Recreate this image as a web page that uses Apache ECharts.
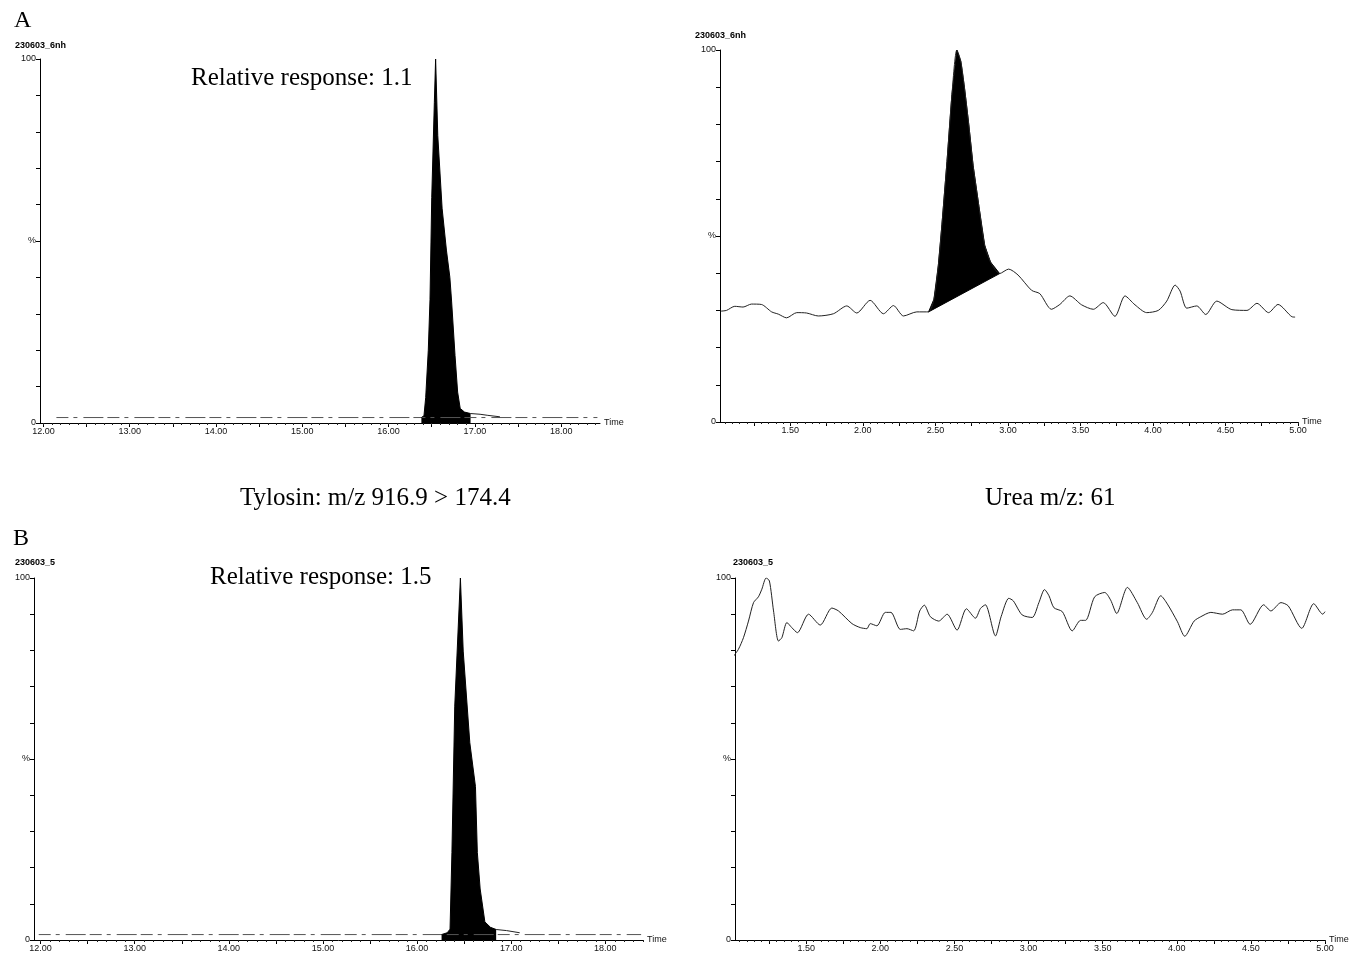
<!DOCTYPE html>
<html>
<head>
<meta charset="utf-8">
<title>chromatograms</title>
<script src="https://cdn.jsdelivr.net/npm/echarts@6.0.0/dist/echarts.min.js"></script>
<style>
html, body { margin: 0; padding: 0; background: #fff; }
#chart { width: 1353px; height: 954px; }
</style>
</head>
<body>
<div id="chart"></div>
<script>
// tick labels
var tylosinLabels = [12, 13, 14, 15, 16, 17, 18];
var ureaLabels = [1.5, 2, 2.5, 3, 3.5, 4, 4.5, 5];
var percentLabels = [0, 50, 100];

// A - tylosin peak (time, %)
var tylosinPeakA = [
	[16.38, 1.5], [16.41, 2.0], [16.43, 7], [16.46, 20], [16.48, 34], [16.50, 62],
	[16.53, 88], [16.545, 100], [16.57, 79], [16.62, 59], [16.67, 47.5], [16.71, 40],
	[16.73, 33.5], [16.77, 18.5], [16.80, 8.5], [16.83, 4.0], [16.88, 3.0], [16.95, 2.6]
];
var tylosinTailA = [[16.95, 2.6], [17.06, 2.4], [17.15, 2.1], [17.29, 1.7]];
var tylosinBaseA = [[12.15, 1.5], [18.42, 1.5]];

// A - urea trace
var ureaTraceA = [
	[1.02, 29.8], [1.06, 30.0], [1.117, 31.1], [1.174, 30.9], [1.232, 31.7], [1.30, 31.6],
	[1.371, 29.6], [1.417, 29.0], [1.474, 28.0], [1.544, 29.4], [1.612, 29.3], [1.693, 28.5],
	[1.797, 29.1], [1.889, 31.2], [1.958, 29.3], [2.05, 32.7], [2.142, 29.1], [2.211, 31.3],
	[2.28, 28.5], [2.372, 29.6], [2.453, 29.6], [2.49, 33.0], [2.52, 42.0], [2.545, 53.0],
	[2.58, 70.0], [2.614, 88.0], [2.648, 100], [2.675, 97.0], [2.70, 90.0], [2.73, 80.0],
	[2.76, 69.0], [2.80, 58.0], [2.84, 47.5], [2.88, 43.0], [2.943, 39.9], [3.005, 41.1],
	[3.07, 39.5], [3.163, 35.4], [3.22, 34.5], [3.30, 30.3], [3.358, 31.6], [3.427, 33.9],
	[3.508, 31.5], [3.589, 30.3], [3.657, 32.1], [3.738, 28.4], [3.807, 33.9], [3.876, 31.5],
	[3.957, 29.4], [4.037, 30.0], [4.095, 32.5], [4.153, 36.8], [4.187, 35.2], [4.233, 30.6],
	[4.302, 31.2], [4.364, 28.9], [4.44, 32.5], [4.544, 30.2], [4.648, 30.0], [4.717, 31.9],
	[4.797, 29.4], [4.862, 31.6], [4.958, 28.3], [4.98, 28.2]
];
var ureaPeakStart = 2.453;
var ureaPeakEnd = 2.943;

// B - tylosin peak
var tylosinPeakB = [
	[16.26, 1.5], [16.32, 2.0], [16.35, 3.0], [16.37, 24.2], [16.40, 64.6], [16.46, 100],
	[16.49, 79.8], [16.56, 54.5], [16.62, 42.4], [16.64, 24.2], [16.67, 14.1], [16.72, 5.0],
	[16.78, 3.5], [16.84, 2.9]
];
var tylosinTailB = [[16.84, 2.9], [16.95, 2.6], [17.09, 2.0]];
var tylosinBaseB = [[11.98, 1.5], [18.38, 1.5]];

// B - urea trace
var ureaTraceB = [
	[1.01, 78.4], [1.043, 80.3], [1.077, 83.5], [1.111, 88.1], [1.145, 93.2], [1.178, 94.8],
	[1.201, 96.9], [1.23, 100], [1.252, 99.2], [1.28, 90.9], [1.313, 82.6], [1.336, 83.5],
	[1.37, 87.7], [1.403, 86.3], [1.441, 84.9], [1.516, 90.0], [1.595, 87.0], [1.673, 91.7],
	[1.718, 90.9], [1.809, 87.4], [1.865, 86.3], [1.91, 86.0], [1.932, 87.4], [1.977, 86.8],
	[2.034, 90.5], [2.072, 90.5], [2.135, 85.8], [2.18, 86.0], [2.225, 85.4], [2.266, 90.9],
	[2.297, 92.5], [2.338, 89.3], [2.394, 88.1], [2.451, 90.0], [2.518, 85.6], [2.581, 91.5],
	[2.642, 88.9], [2.676, 91.6], [2.709, 92.6], [2.777, 84.0], [2.815, 89.3], [2.867, 94.4],
	[2.897, 93.7], [2.957, 89.8], [3.025, 89.1], [3.07, 93.2], [3.108, 96.8], [3.138, 95.1],
	[3.171, 91.8], [3.228, 90.7], [3.295, 85.4], [3.351, 88.3], [3.385, 88.3], [3.446, 94.8],
	[3.514, 96.0], [3.554, 93.9], [3.595, 90.2], [3.667, 97.4], [3.734, 93.2], [3.797, 88.6],
	[3.836, 90.5], [3.892, 95.1], [3.937, 92.8], [4.005, 87.9], [4.054, 83.9], [4.117, 88.1],
	[4.162, 89.3], [4.23, 90.5], [4.309, 90.0], [4.376, 91.2], [4.432, 91.2], [4.495, 87.2],
	[4.586, 92.6], [4.635, 90.9], [4.703, 93.2], [4.752, 92.3], [4.843, 86.1], [4.924, 92.9],
	[4.985, 90.0], [5.0, 90.7]
];

var smallFont = '"Liberation Sans", Arial, sans-serif';
var serifFont = '"Liberation Serif", "Times New Roman", serif';

function steps(from, to, step) {
	var out = [];
	for (var v = from; v <= to + 1e-9; v += step) {
		out.push(Math.round(v * 1000) / 1000);
	}
	return out;
}

function mainXAxis(grid, min, max, labels, major) {
	return {
		gridIndex: grid,
		type: 'value',
		min: min,
		max: max,
		name: 'Time',
		nameLocation: 'end',
		nameGap: 4,
		nameMoveOverlap: false,
		nameTextStyle: { fontSize: 9, color: '#111', fontFamily: smallFont },
		axisLine: { show: true, lineStyle: { color: '#000', width: 1 } },
		axisTick: { show: true, customValues: major, length: 4, lineStyle: { color: '#000' } },
		axisLabel: {
			customValues: labels,
			fontSize: 9,
			color: '#111',
			fontFamily: smallFont,
			margin: 4,
			formatter: function (v) { return v.toFixed(2); }
		},
		splitLine: { show: false }
	};
}

function minorXAxis(grid, min, max, minor) {
	return {
		gridIndex: grid,
		type: 'value',
		min: min,
		max: max,
		position: 'bottom',
		axisLine: { show: false },
		axisTick: { show: true, customValues: minor, length: 2, lineStyle: { color: '#222' } },
		axisLabel: { show: false },
		splitLine: { show: false }
	};
}

function pctYAxis(grid) {
	return {
		gridIndex: grid,
		type: 'value',
		min: 0,
		max: 100,
		axisLine: { show: true, lineStyle: { color: '#000', width: 1 } },
		axisTick: { show: true, customValues: steps(0, 100, 10), length: 4, lineStyle: { color: '#000' } },
		axisLabel: {
			customValues: percentLabels,
			fontSize: 9,
			color: '#111',
			fontFamily: smallFont,
			margin: 4,
			formatter: function (v) { return v === 50 ? '%' : String(v); }
		},
		splitLine: { show: false }
	};
}

function txt(left, top, text, font) {
	return { type: 'text', left: left, top: top, style: { text: text, font: font, fill: '#000' } };
}

function filledPeak(name, axis, data) {
	return {
		name: name, type: 'line', xAxisIndex: axis, yAxisIndex: axis, symbol: 'none',
		data: data, lineStyle: { color: '#000', width: 1 },
		areaStyle: { color: '#000', opacity: 1, origin: 'start' }
	};
}

function plainLine(name, axis, data, smooth, dash) {
	return {
		name: name, type: 'line', xAxisIndex: axis, yAxisIndex: axis, symbol: 'none',
		smooth: smooth, data: data,
		lineStyle: { color: dash ? '#555' : '#222', width: 1, type: dash || 'solid' }
	};
}

var ureaPeakFill = ureaTraceA.filter(function (p) {
	return p[0] >= ureaPeakStart && p[0] <= ureaPeakEnd;
});

var myChart = echarts.init(document.getElementById('chart'));
var options = {
	backgroundColor: '#fff',
	animation: false,
	grid: [
		{ left: 40, top: 59, width: 560, height: 364, containLabel: false, outerBoundsMode: 'none' },
		{ left: 720, top: 50, width: 578, height: 372, containLabel: false, outerBoundsMode: 'none' },
		{ left: 34, top: 578, width: 609, height: 362, containLabel: false, outerBoundsMode: 'none' },
		{ left: 735, top: 578, width: 590, height: 362, containLabel: false, outerBoundsMode: 'none' }
	],
	xAxis: [
		mainXAxis(0, 11.96, 18.45, tylosinLabels, steps(12, 18, 0.5)),
		mainXAxis(1, 1.015, 5.0, ureaLabels, steps(1.25, 5, 0.25)),
		mainXAxis(2, 11.93, 18.4, tylosinLabels, steps(12, 18, 0.5)),
		mainXAxis(3, 1.02, 5.0, ureaLabels, steps(1.25, 5, 0.25)),
		minorXAxis(0, 11.96, 18.45, steps(12, 18.4, 0.1)),
		minorXAxis(1, 1.015, 5.0, steps(1.05, 5, 0.05)),
		minorXAxis(2, 11.93, 18.4, steps(12, 18.4, 0.1)),
		minorXAxis(3, 1.02, 5.0, steps(1.05, 5, 0.05))
	],
	yAxis: [pctYAxis(0), pctYAxis(1), pctYAxis(2), pctYAxis(3)],
	graphic: [
		txt(14, 9, 'A', '24px ' + serifFont),
		txt(13, 527, 'B', '24px ' + serifFont),
		txt(15, 41, '230603_6nh', 'bold 9px ' + smallFont),
		txt(695, 31, '230603_6nh', 'bold 9px ' + smallFont),
		txt(15, 558, '230603_5', 'bold 9px ' + smallFont),
		txt(733, 558, '230603_5', 'bold 9px ' + smallFont),
		txt(191, 66, 'Relative response: 1.1', '25px ' + serifFont),
		txt(210, 565, 'Relative response: 1.5', '25px ' + serifFont),
		txt(240, 486, 'Tylosin: m/z 916.9 > 174.4', '25px ' + serifFont),
		txt(985, 486, 'Urea m/z: 61', '25px ' + serifFont)
	],
	series: [
		plainLine('baseA', 0, tylosinBaseA, false, [12, 5, 4, 6, 20, 4]),
		filledPeak('tylosinA', 0, tylosinPeakA),
		plainLine('tailA', 0, tylosinTailA, false, null),
		plainLine('ureaA', 1, ureaTraceA, 0.25, null),
		{
			name: 'ureaPeakA', type: 'custom', xAxisIndex: 1, yAxisIndex: 1,
			data: [ureaPeakFill[0]],
			renderItem: function (params, api) {
				var pts = ureaPeakFill.map(function (p) { return api.coord(p); });
				return { type: 'polygon', shape: { points: pts }, style: { fill: '#000', stroke: '#000', lineWidth: 1 } };
			}
		},
		plainLine('baseB', 2, tylosinBaseB, false, [12, 5, 4, 6, 20, 4]),
		filledPeak('tylosinB', 2, tylosinPeakB),
		plainLine('tailB', 2, tylosinTailB, false, null),
		plainLine('ureaB', 3, ureaTraceB, 0.25, null)
	]
};
myChart.setOption(options);
</script>
</body>
</html>
